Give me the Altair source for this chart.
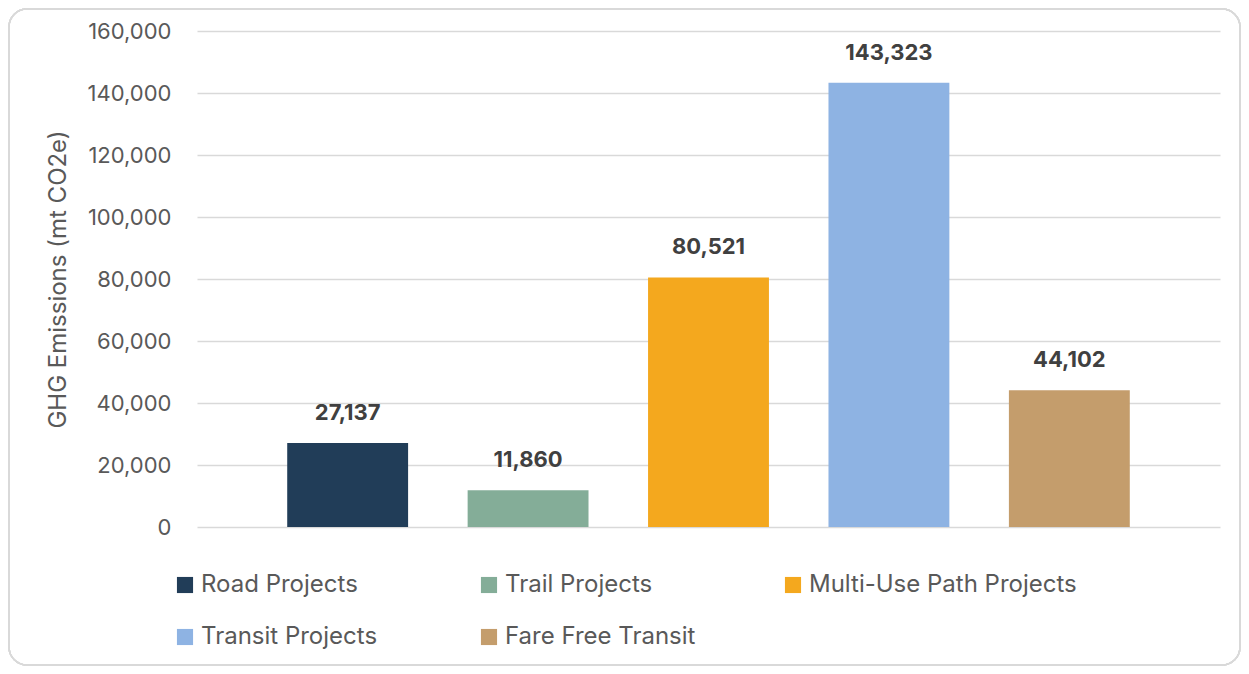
import altair as alt
import pandas as pd

categories = ["Road Projects", "Trail Projects", "Multi-Use Path Projects", "Transit Projects", "Fare Free Transit"]
values = [27137, 11860, 80521, 143323, 44102]
colors = ["#213D58", "#84AD98", "#F4A81E", "#8EB3E3", "#C49D6C"]
y_ticks = [0, 20000, 40000, 60000, 80000, 100000, 120000, 140000, 160000]

df = pd.DataFrame({"category": categories, "value": values})

FONT = "Inter"
GREY = "#595959"

x_enc = alt.X("category:N", sort=categories, axis=None,
              scale=alt.Scale(paddingInner=0.33, paddingOuter=0.5))
y_enc = alt.Y("value:Q",
              scale=alt.Scale(domain=[0, 160000], nice=False),
              axis=alt.Axis(values=y_ticks, format=",d", title="GHG Emissions  (mt CO2e)",
                            titleFontSize=24, titleFont=FONT, titleFontWeight="normal",
                            titleColor=GREY, titlePadding=17,
                            labelFontSize=22, labelFont=FONT, labelColor=GREY,
                            labelPadding=26, ticks=False, domain=False,
                            grid=True, gridColor="#d9d9d9", gridWidth=1.5))

border = alt.Chart(df).mark_rect(cornerRadius=18, fill="transparent",
                                 stroke="#d9d9d9", strokeWidth=1.5).encode(
    x=alt.value(-188), x2=alt.value(1043), y=alt.value(-22), y2=alt.value(634))

bars = alt.Chart(df).mark_bar().encode(
    x=x_enc,
    y=y_enc,
    color=alt.Color("category:N", sort=categories,
                    scale=alt.Scale(domain=categories, range=colors),
                    legend=alt.Legend(title=None, orient="none", legendX=-24, legendY=542,
                                      direction="horizontal",
                                      columns=3, gridAlign="all", columnPadding=8,
                                      rowPadding=28, padding=0,
                                      symbolType="square", symbolSize=260, symbolStrokeWidth=0,
                                      symbolOffset=0, labelOffset=4,
                                      labelFontSize=24, labelFont=FONT, labelColor=GREY,
                                      labelLimit=400)),
)

labels = alt.Chart(df).mark_text(baseline="bottom", dy=-18, fontSize=22, fontWeight="bold",
                                 font=FONT, color="#404040").encode(
    x=alt.X("category:N", sort=categories),
    y="value:Q",
    text=alt.Text("value:Q", format=",d"),
)

chart = alt.layer(border, bars, labels).properties(
    width=1023, height=496,
    autosize=alt.AutoSizeParams(type="none"),
    padding={"left": 189, "top": 23, "right": 21, "bottom": 139},
    background="white",
).configure_view(stroke=None)

chart.save("out.html", embed_options={"renderer": "svg", "actions": False})
